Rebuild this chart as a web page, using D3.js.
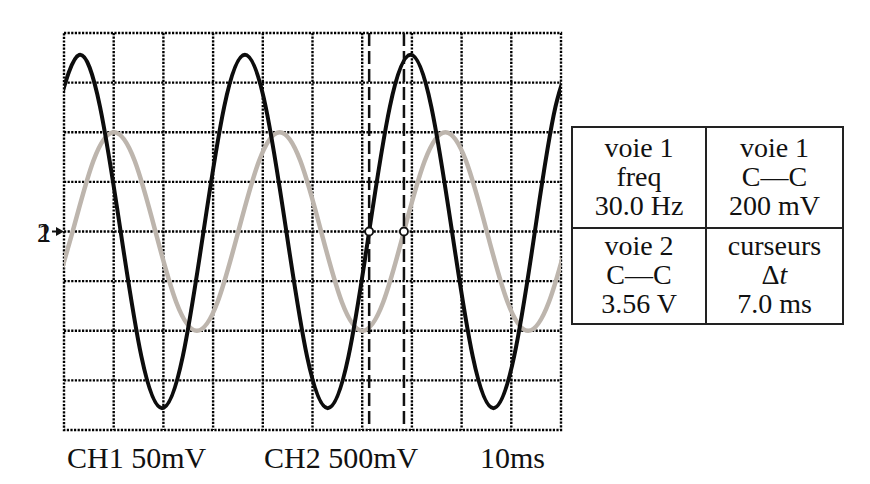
<!DOCTYPE html>
<html lang="fr">
<head>
	<meta charset="UTF-8">
	<title>Oscillogramme</title>
	<script src="https://d3js.org/d3.v7.min.js"></script>
	<style>
		body {
			margin: 0;
			background-color: white;
		}
		svg {
			display: block;
			background-color: white;
		}
		.grid line,
		.grid rect {
			fill: none;
			stroke: #000;
			stroke-width: 2.4;
			stroke-dasharray: 2.2,1.4;
		}
		.cursor {
			stroke: #111;
			stroke-width: 2.5;
			stroke-dasharray: 13,5;
		}
		.label {
			font-family: "Liberation Serif", "Times New Roman", serif;
			fill: #111;
		}
		.box line,
		.box rect {
			fill: none;
			stroke: #222;
			stroke-width: 2;
		}
	</style>
</head>
<body>
	<script>
		// time base 10 ms/div, 10 divisions
		var timeDomain = [0, 100];
		// CH1 50 mV/div, CH2 500 mV/div, 8 divisions
		var ch1Domain = [-200, 200];
		var ch2Domain = [-2000, 2000];

		var ch2Times = [-1.1, 3.07, 7.24, 11.4, 15.57, 19.74, 23.9, 28.07, 32.24, 36.4, 40.57, 44.74, 48.9,
			53.07, 57.24, 61.4, 65.57, 69.74, 73.9, 78.07, 82.24, 86.4, 90.57, 94.74, 98.9, 103.07];
		var ch2Values = [1259, 1780, 1259, 0, -1259, -1780, -1259, 0, 1259, 1780, 1259, 0, -1259,
			-1780, -1259, 0, 1259, 1780, 1259, 0, -1259, -1780, -1259, 0, 1259, 1780];

		// voie 1 (grey)
		var ch1Times = [-2.43, 1.74, 5.9, 10.07, 14.24, 18.4, 22.57, 26.74, 30.9, 35.07, 39.24, 43.4, 47.57,
			51.74, 55.9, 60.07, 64.24, 68.4, 72.57, 76.74, 80.9, 85.07, 89.24, 93.4, 97.57, 101.74];
		var ch1Values = [-71, 0, 71, 100, 71, 0, -71, -100, -71, 0, 71, 100, 71,
			0, -71, -100, -71, 0, 71, 100, 71, 0, -71, -100, -71, 0];

		// cursors (ms)
		var cursorTimes = [61.4, 68.4];

		var bottomLabels = ['CH1 50mV', 'CH2 500mV', '10ms'];
		var tableCells = [
			['voie 1', 'freq', '30.0 Hz'],
			['voie 1', 'C\u2014C', '200 mV'],
			['voie 2', 'C\u2014C', '3.56 V'],
			['curseurs', '\u0394t', '7.0 ms']
		];

		var w = 870, h = 484;
		var screen = {left: 64, right: 561, top: 33, bottom: 430};

		var svg = d3.select('body')
			.append('svg')
			.attr('width', w)
			.attr('height', h);

		var x = d3.scaleLinear().domain(timeDomain).range([screen.left, screen.right]);
		var y1 = d3.scaleLinear().domain(ch1Domain).range([screen.bottom, screen.top]);
		var y2 = d3.scaleLinear().domain(ch2Domain).range([screen.bottom, screen.top]);

		svg.append('clipPath')
			.attr('id', 'screen')
			.append('rect')
			.attr('x', screen.left)
			.attr('y', screen.top)
			.attr('width', screen.right - screen.left)
			.attr('height', screen.bottom - screen.top);

		// dotted graticule
		var grid = svg.append('g').attr('class', 'grid');
		grid.selectAll('line.v')
			.data(d3.range(1, 10))
			.enter()
			.append('line')
			.attr('class', 'v')
			.attr('x1', function(d) { return x(d * 10); })
			.attr('x2', function(d) { return x(d * 10); })
			.attr('y1', screen.top)
			.attr('y2', screen.bottom);
		grid.selectAll('line.h')
			.data(d3.range(-3, 4))
			.enter()
			.append('line')
			.attr('class', 'h')
			.attr('y1', function(d) { return y1(d * 50); })
			.attr('y2', function(d) { return y1(d * 50); })
			.attr('x1', screen.left)
			.attr('x2', screen.right);
		grid.append('rect')
			.attr('x', screen.left)
			.attr('y', screen.top)
			.attr('width', screen.right - screen.left)
			.attr('height', screen.bottom - screen.top);

		var traces = svg.append('g').attr('clip-path', 'url(#screen)');

		var line1 = d3.line()
			.x(function(d) { return x(d[0]); })
			.y(function(d) { return y1(d[1]); })
			.curve(d3.curveNatural);
		var line2 = d3.line()
			.x(function(d) { return x(d[0]); })
			.y(function(d) { return y2(d[1]); })
			.curve(d3.curveNatural);

		traces.append('path')
			.datum(d3.zip(ch1Times, ch1Values))
			.attr('d', line1)
			.attr('fill', 'none')
			.attr('stroke', '#bdb5ad')
			.attr('stroke-width', 4.5);

		traces.append('path')
			.datum(d3.zip(ch2Times, ch2Values))
			.attr('d', line2)
			.attr('fill', 'none')
			.attr('stroke', '#0d0d0d')
			.attr('stroke-width', 4);

		// cursors
		svg.selectAll('line.cursor')
			.data(cursorTimes)
			.enter()
			.append('line')
			.attr('class', 'cursor')
			.attr('x1', function(d) { return x(d); })
			.attr('x2', function(d) { return x(d); })
			.attr('y1', screen.top)
			.attr('y2', screen.bottom);

		svg.selectAll('circle.mark')
			.data(cursorTimes)
			.enter()
			.append('circle')
			.attr('class', 'mark')
			.attr('cx', function(d) { return x(d); })
			.attr('cy', y1(0))
			.attr('r', 4)
			.attr('fill', 'white')
			.attr('stroke', '#111')
			.attr('stroke-width', 1.8);

		// ground markers "1" and "2"
		svg.append('text')
			.attr('class', 'label')
			.attr('x', 37)
			.attr('y', y1(0) + 10)
			.attr('font-size', 27)
			.text('2');
		svg.append('text')
			.attr('class', 'label')
			.attr('x', 38)
			.attr('y', y1(0) + 10)
			.attr('font-size', 27)
			.text('1');
		svg.append('line')
			.attr('x1', 52)
			.attr('x2', 58)
			.attr('y1', y1(0))
			.attr('y2', y1(0))
			.attr('stroke', '#111')
			.attr('stroke-width', 2);
		svg.append('path')
			.attr('d', 'M56,' + (y1(0) - 4.5) + 'L64,' + y1(0) + 'L56,' + (y1(0) + 4.5) + 'Z')
			.attr('fill', '#111');

		// bottom captions
		var labelX = [67, 264, 480];
		svg.selectAll('text.bottom')
			.data(bottomLabels)
			.enter()
			.append('text')
			.attr('class', 'label bottom')
			.attr('x', function(d, i) { return labelX[i]; })
			.attr('y', 468)
			.attr('font-size', 30)
			.text(function(d) { return d; });

		// measurement box
		var box = {left: 572, right: 843, top: 127, bottom: 324, midX: 706, midY: 228};
		var bg = svg.append('g').attr('class', 'box');
		bg.append('rect')
			.attr('x', box.left)
			.attr('y', box.top)
			.attr('width', box.right - box.left)
			.attr('height', box.bottom - box.top);
		bg.append('line')
			.attr('x1', box.midX).attr('x2', box.midX)
			.attr('y1', box.top).attr('y2', box.bottom);
		bg.append('line')
			.attr('x1', box.left).attr('x2', box.right)
			.attr('y1', box.midY).attr('y2', box.midY);

		var cellCx = [(box.left + box.midX) / 2, (box.midX + box.right) / 2];
		var cellTop = [157, 255];
		tableCells.forEach(function(cell, i) {
			var cx = cellCx[i % 2], top = cellTop[Math.floor(i / 2)];
			cell.forEach(function(txt, j) {
				var t = svg.append('text')
					.attr('class', 'label')
					.attr('x', cx)
					.attr('y', top + j * 29)
					.attr('text-anchor', 'middle')
					.attr('font-size', 28);
				if (txt === '\u0394t') {
					t.append('tspan').text('\u0394');
					t.append('tspan').attr('font-style', 'italic').text('t');
				} else {
					t.text(txt);
				}
			});
		});
	</script>
</body>
</html>
